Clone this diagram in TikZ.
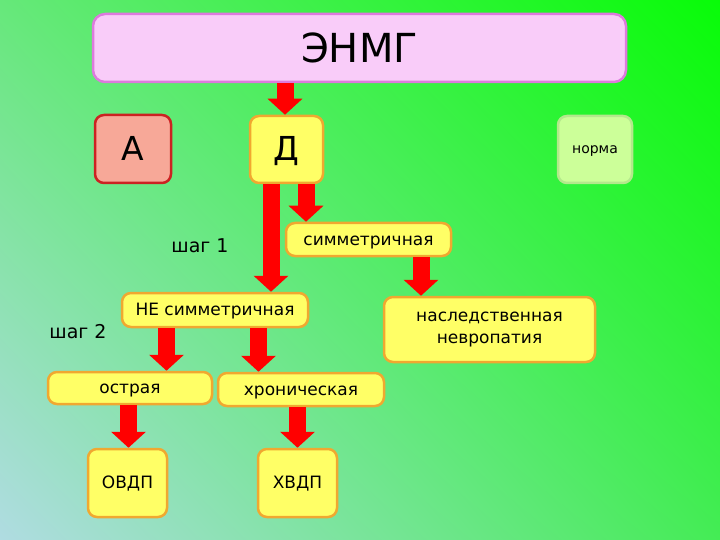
\documentclass[tikz,border=0pt]{standalone}
\usepackage{fontspec}
\setmainfont{DejaVu Sans}
\usetikzlibrary{arrows.meta,shadings}

\definecolor{bgTL}{HTML}{66E87A}
\definecolor{bgTR}{HTML}{08FC08}
\definecolor{bgBL}{HTML}{B0DCE2}
\definecolor{bgBR}{HTML}{44EC55}
\definecolor{pinkfill}{HTML}{F9CCF9}
\definecolor{pinkline}{HTML}{DD7ADD}
\definecolor{redfill}{HTML}{F7A898}
\definecolor{redline}{HTML}{CC2222}
\definecolor{yelfill}{HTML}{FFFF66}
\definecolor{yelline}{HTML}{F0A830}
\definecolor{grnfill}{HTML}{CCFF99}
\definecolor{grnline}{HTML}{B4E88C}
\definecolor{arrred}{HTML}{FF0000}

\tikzset{
	box/.style={rectangle, rounded corners=9pt, line width=2.5pt, inner sep=0pt, align=center},
	pinkbox/.style={box, fill=pinkfill, draw=pinkline, rounded corners=12pt},
	redbox/.style={box, fill=redfill, draw=redline},
	yelbox/.style={box, fill=yelfill, draw=yelline},
	grnbox/.style={box, fill=grnfill, draw=grnline},
	onerow/.style={text height=#1, text depth=0pt},
	smalltext/.style={font=\fontsize{17}{17}\selectfont, onerow=11pt},
	bigtext/.style={font=\fontsize{33}{33}\selectfont, onerow=23pt},
	blockarrow/.style={draw=arrred, line width=17pt, -{Triangle[width=34pt,length=16pt]}},
	steplabel/.style={font=\fontsize{19}{19}\selectfont, inner sep=0pt}
}

\begin{document}
\begin{tikzpicture}[x=1pt, y=-1pt]
			%%%%% START %%%%%
			
			\shade[upper left=bgTL, upper right=bgTR, lower left=bgBL, lower right=bgBR] (0, 0) rectangle (720, 540);
			\useasboundingbox (0, 0) rectangle (720, 540);
			
			\node[pinkbox, minimum width=533pt, minimum height=68pt, font=\fontsize{40}{40}\selectfont] (enmg) at (359.5, 48) {ЭНМГ};
			
			\node[redbox, bigtext, minimum width=76pt, minimum height=68pt] (a) at (133, 149) {А};
			\node[yelbox, bigtext, minimum width=73pt, minimum height=67pt] (d) at (286.5, 149.5) {Д};
			\node[grnbox, minimum width=74pt, minimum height=67pt, font=\fontsize{14}{14}\selectfont, onerow=9pt] (norma) at (595, 149.5) {норма};
			
			\node[yelbox, smalltext, minimum width=165pt, minimum height=33pt] (sym) at (368.5, 239.5) {симметричная};
			\node[yelbox, smalltext, minimum width=186pt, minimum height=34pt] (nesym) at (215, 310) {НЕ симметричная};
			\node[yelbox, minimum width=211pt, minimum height=65pt, font=\fontsize{17}{22}\selectfont] (hered) at (489.5, 329.5) {наследственная\\невропатия};
			
			\node[yelbox, smalltext, minimum width=164pt, minimum height=32pt] (acute) at (130, 388) {острая};
			\node[yelbox, smalltext, minimum width=166pt, minimum height=33pt] (chron) at (301, 389.5) {хроническая};
			
			\node[yelbox, smalltext, minimum width=79pt, minimum height=68pt] (ovdp) at (127.5, 483) {ОВДП};
			\node[yelbox, smalltext, minimum width=79pt, minimum height=68pt] (hvdp) at (297.5, 483) {ХВДП};
			
			\node[steplabel] (step1) at (200, 246) {шаг 1};
			\node[steplabel] (step2) at (78, 332) {шаг 2};
			
			% arrows
			\draw[blockarrow] ([xshift=-1.5pt]enmg.south -| d.north) -- ([xshift=-1.5pt]d.north);
			\draw[blockarrow] ([xshift=-15.5pt]d.south) -- ([xshift=-15.5pt]d.south |- nesym.north);
			\draw[blockarrow] ([xshift=19.5pt]d.south) -- ([xshift=19.5pt]d.south |- sym.north);
			\draw[blockarrow] ([xshift=52.5pt]sym.south) -- ([xshift=52.5pt]sym.south |- hered.north);
			\draw[blockarrow] ([xshift=-48.5pt]nesym.south) -- ([xshift=-48.5pt]nesym.south |- acute.north);
			\draw[blockarrow] ([xshift=43.5pt]nesym.south) -- ([xshift=43.5pt]nesym.south |- chron.north);
			\draw[blockarrow] ([xshift=-1.5pt]acute.south) -- ([xshift=-1.5pt]acute.south |- ovdp.north);
			\draw[blockarrow] ([xshift=-3.5pt]chron.south) -- ([xshift=-3.5pt]chron.south |- hvdp.north);
			
			%%%%% END %%%%%
\end{tikzpicture}
\end{document}
